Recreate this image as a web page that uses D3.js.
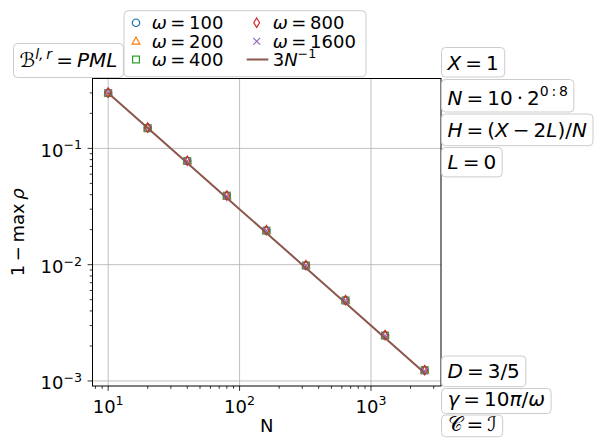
<!DOCTYPE html>
<html><head><meta charset="utf-8">
<script src="https://cdn.jsdelivr.net/npm/d3@7/dist/d3.min.js"></script>
<style>
body{margin:0;background:#fff}
text{font-family:"DejaVu Sans",sans-serif;fill:#000}
</style>
</head><body>
<svg id="c" width="598" height="446"></svg>
<script>
// ---------- data ----------
const N = [10, 20, 40, 80, 160, 320, 640, 1280, 2560];
const omegas = [100, 200, 400, 800, 1600];
const gap100  = [0.300, 0.150, 0.0780, 0.0391, 0.0197, 0.00985, 0.00493, 0.00246, 0.00123];
const gap200  = [0.301, 0.150, 0.0782, 0.0390, 0.0197, 0.00988, 0.00494, 0.00247, 0.00123];
const gap400  = [0.299, 0.149, 0.0779, 0.0392, 0.0196, 0.00984, 0.00492, 0.00246, 0.00124];
const gap800  = [0.302, 0.151, 0.0783, 0.0393, 0.0198, 0.00990, 0.00496, 0.00248, 0.00124];
const gap1600 = [0.300, 0.149, 0.0778, 0.0389, 0.0196, 0.00982, 0.00491, 0.00245, 0.00122];
const refCoef = 3; // 3 N^-1
const xTicks = [10, 100, 1000];
const yTicks = [1e-1, 1e-2, 1e-3];

// ---------- layout ----------
const svg = d3.select('#c');
const L = 92.5, R = 441, T = 78.5, B = 386;
const x = d3.scaleLog().domain([7.6, 3410]).range([L, R]);
const y = d3.scaleLog().domain([0.000905, 0.399]).range([B, T]);

const colors = ['#1f77b4', '#ff7f0e', '#2ca02c', '#d62728', '#9467bd'];
const brown = '#8c564b';
const series = [gap100, gap200, gap400, gap800, gap1600];

function rich(sel, segs, size) {
  let shift = 0;
  segs.forEach(s => {
    const ts = sel.append('tspan').text(s.t);
    if (s.it) ts.attr('font-style', 'italic');
    const target = s.sup ? -size * 0.42 : 0;
    if (s.sup) ts.attr('font-size', size * 0.7);
    if (target !== shift) { ts.attr('dy', target - shift); shift = target; }
  });
}

// grid
const g = svg.append('g');
xTicks.forEach(t => g.append('line').attr('x1', x(t)).attr('x2', x(t)).attr('y1', T).attr('y2', B)
  .attr('stroke', '#b0b0b0').attr('stroke-width', 0.8));
yTicks.forEach(t => g.append('line').attr('y1', y(t)).attr('y2', y(t)).attr('x1', L).attr('x2', R)
  .attr('stroke', '#b0b0b0').attr('stroke-width', 0.8));

// minor ticks
const xd = x.domain(), yd = y.domain();
for (let e = 0; e <= 3; e++) for (let m = 2; m <= 9; m++) {
  const v = m * Math.pow(10, e);
  if (v >= xd[0] && v <= xd[1]) svg.append('line').attr('x1', x(v)).attr('x2', x(v)).attr('y1', B).attr('y2', B + 2.8).attr('stroke', '#000').attr('stroke-width', 0.8);
}
for (let e = -4; e <= 0; e++) for (let m = 2; m <= 9; m++) {
  const v = m * Math.pow(10, e);
  if (v >= yd[0] && v <= yd[1]) svg.append('line').attr('y1', y(v)).attr('y2', y(v)).attr('x1', L).attr('x2', L - 2.8).attr('stroke', '#000').attr('stroke-width', 0.8);
}
// major ticks & labels
xTicks.forEach(t => {
  svg.append('line').attr('x1', x(t)).attr('x2', x(t)).attr('y1', B).attr('y2', B + 4.9).attr('stroke', '#000').attr('stroke-width', 0.8);
  const tx = svg.append('text').attr('x', x(t)).attr('y', 413).attr('text-anchor', 'middle').attr('font-size', 18);
  rich(tx, [{t: '10'}, {t: String(Math.round(Math.log10(t))), sup: true}], 18);
});
yTicks.forEach(t => {
  svg.append('line').attr('y1', y(t)).attr('y2', y(t)).attr('x1', L).attr('x2', L - 4.9).attr('stroke', '#000').attr('stroke-width', 0.8);
  const tx = svg.append('text').attr('x', 82).attr('y', y(t) + 8.5).attr('text-anchor', 'end').attr('font-size', 18);
  rich(tx, [{t: '10'}, {t: '\u2212' + Math.round(-Math.log10(t)), sup: true}], 18);
});

// axis labels
svg.append('text').attr('x', (L + R) / 2).attr('y', 432).attr('text-anchor', 'middle').attr('font-size', 18).text('N');
const yl = svg.append('text').attr('transform', `translate(24,${(T + B) / 2}) rotate(-90)`).attr('text-anchor', 'middle').attr('font-size', 18);
rich(yl, [{t: '1\u2009\u2212\u2009max\u2009'}, {t: 'ρ', it: true}], 18);

// clip
svg.append('clipPath').attr('id', 'clip').append('rect').attr('x', L).attr('y', T).attr('width', R - L).attr('height', B - T);
const plot = svg.append('g').attr('clip-path', 'url(#clip)');

// markers
function marker(sel, k, cx, cy) {
  const c = colors[k];
  const s = sel.append('g').attr('transform', `translate(${cx},${cy})`).attr('fill', 'none').attr('stroke', c).attr('stroke-width', 1.2);
  if (k === 0) s.append('circle').attr('r', 3.7);
  if (k === 1) s.append('path').attr('d', 'M0,-4.3L3.9,2.9L-3.9,2.9Z');
  if (k === 2) s.append('rect').attr('x', -3.4).attr('y', -3.4).attr('width', 6.8).attr('height', 6.8);
  if (k === 3) s.append('path').attr('d', 'M0,-4.7L2.9,0L0,4.7L-2.9,0Z');
  if (k === 4) s.append('path').attr('d', 'M-3.4,-3.4L3.4,3.4M-3.4,3.4L3.4,-3.4');
}
series.forEach((arr, k) => arr.forEach((v, i) => marker(plot, k, x(N[i]), y(v))));

// reference line
plot.append('path').datum(N).attr('fill', 'none').attr('stroke', brown).attr('stroke-width', 2)
  .attr('d', d3.line().x(d => x(d)).y(d => y(refCoef / d)));

// spines
svg.append('rect').attr('x', L).attr('y', T).attr('width', R - L).attr('height', B - T)
  .attr('fill', 'none').attr('stroke', '#000').attr('stroke-width', 1);

// boxes
function box(x0, y0, h, baseline, segs, size, minW) {
  const gg = svg.append('g');
  const r = gg.append('rect');
  const t = gg.append('text').attr('x', x0 + 6).attr('y', baseline).attr('font-size', size);
  rich(t, segs, size);
  const w = Math.max(t.node().getComputedTextLength() + 12, minW || 0);
  r.attr('x', x0).attr('y', y0).attr('width', w).attr('height', h).attr('rx', 4)
    .attr('fill', 'white').attr('fill-opacity', 0.8).attr('stroke', '#cccccc').attr('stroke-width', 1);
}
box(13.5, 43.5, 34, 67, [{t: 'ℬ', it: false}, {t: 'l,\u2009r', it: true, sup: true}, {t: '\u2009=\u2009'}, {t: 'PML', it: true}], 20);

const bx = 441.5;
box(bx, 47.5, 29.5, 70, [{t: 'X', it: true}, {t: '\u2009=\u20091'}], 20);
box(bx, 79.5, 32.5, 104.5, [{t: 'N', it: true}, {t: '\u2009=\u200910\u2009·\u20092'}, {t: '0\u2009:\u20098', sup: true}], 20);
box(bx, 114, 31.7, 136.5, [{t: 'H', it: true}, {t: '\u2009=\u2009('}, {t: 'X', it: true}, {t: '\u2009\u2212\u20092'}, {t: 'L', it: true}, {t: ')/'}, {t: 'N', it: true}], 20);
box(bx, 147.5, 29.4, 168.5, [{t: 'L', it: true}, {t: '\u2009=\u20090'}], 20);
box(bx, 356, 30.7, 378.3, [{t: 'D', it: true}, {t: '\u2009=\u20093/5'}], 20);
box(bx, 388.5, 25, 405.5, [{t: 'γ', it: true}, {t: '\u2009=\u200910'}, {t: 'π', it: true}, {t: '/'}, {t: 'ω', it: true}], 20);
box(bx, 415, 21.7, 431, [{t: '𝒞'}, {t: '\u2009=\u2009'}, {t: 'ℐ'}], 20);

// legend
const lg = svg.append('g');
lg.append('rect').attr('x', 124).attr('y', 10.7).attr('width', 242).attr('height', 66).attr('rx', 4)
  .attr('fill', 'white').attr('fill-opacity', 0.8).attr('stroke', '#cccccc').attr('stroke-width', 1);
const rowsY = [22.7, 41.3, 59.5];
const colMX = [136, 256.7], colTX = [151.7, 272.7];
omegas.forEach((w, k) => {
  const col = k < 3 ? 0 : 1, row = k < 3 ? k : k - 3;
  marker(lg, k, colMX[col], rowsY[row]);
  const t = lg.append('text').attr('x', colTX[col]).attr('y', rowsY[row] + 6.5).attr('font-size', 18);
  rich(t, [{t: 'ω', it: true}, {t: '\u2009=\u2009' + w}], 18);
});
lg.append('line').attr('x1', 246.7).attr('x2', 268.3).attr('y1', rowsY[2]).attr('y2', rowsY[2]).attr('stroke', brown).attr('stroke-width', 2);
const lt = lg.append('text').attr('x', 272.7).attr('y', rowsY[2] + 6.5).attr('font-size', 18);
rich(lt, [{t: '3'}, {t: 'N', it: true}, {t: '\u22121', sup: true}], 18);
</script>
</body></html>
